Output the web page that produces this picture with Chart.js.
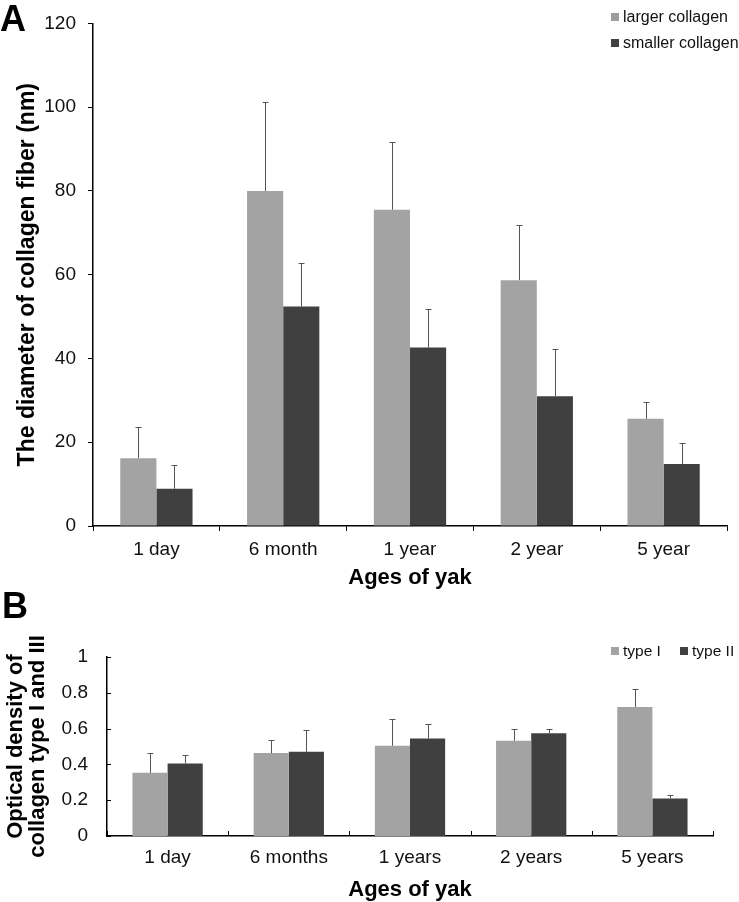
<!DOCTYPE html>
<html>
<head>
<meta charset="utf-8">
<script src="https://cdn.jsdelivr.net/npm/chart.js@4.4.0/dist/chart.umd.min.js"></script>
<style>
  html, body { margin: 0; padding: 0; background: #fff; overflow: hidden; }
  body { width: 739px; height: 902px; position: relative; font-family: "Liberation Sans", Arial, sans-serif; }
  canvas { position: absolute; left: 0; }
  #chartA { top: 0; }
  #chartB { top: 600px; }
  .panel { position: absolute; font-weight: bold; font-size: 36px; line-height: 1; color: #000; }
  .legend { position: absolute; font-size: 16px; color: #111; white-space: nowrap; }
  .legend span.sq { display: inline-block; width: 8px; height: 8px; margin-right: 4px; vertical-align: 1px; }
</style>
</head>
<body>
<canvas id="chartA" width="739" height="600"></canvas>
<canvas id="chartB" width="739" height="302"></canvas>

<div class="panel" style="left:0px; top:1px;">A</div>
<div class="panel" style="left:2px; top:588px;">B</div>

<div class="legend" style="left:611px; top:8px;"><span class="sq" style="background:#9c9c9c"></span>larger collagen</div>
<div class="legend" style="left:611px; top:34px;"><span class="sq" style="background:#404040"></span>smaller collagen</div>
<div class="legend" style="left:611px; top:642px; font-size:15.5px;"><span class="sq" style="background:#a3a3a3"></span>type I</div>
<div class="legend" style="left:680px; top:642px; font-size:15.5px;"><span class="sq" style="background:#404040"></span>type II</div>

<script>
// ===== data, chart A (fiber diameter, nm)
const agesA = ["1 day", "6 month", "1 year", "2 year", "5 year"];
const largerMean = [16.2, 80.0, 75.5, 58.7, 25.6];
const largerSD = [7.4, 21.2, 16.1, 13.1, 4.1];
const smallerMean = [8.9, 52.4, 42.6, 31.0, 14.8];
const smallerSD = [5.6, 10.3, 9.2, 11.2, 5.0];
const ticksA = [0, 20, 40, 60, 80, 100, 120];

// ===== data, chart B (optical density)
const agesB = ["1 day", "6 months", "1 years", "2 years", "5 years"];
const type1Mean = [0.353, 0.463, 0.504, 0.532, 0.721];
const type1SD = [0.108, 0.074, 0.148, 0.068, 0.099];
const type2Mean = [0.405, 0.47, 0.545, 0.574, 0.21];
const type2SD = [0.045, 0.121, 0.083, 0.026, 0.017];
const ticksB = [0, 0.2, 0.4, 0.6, 0.8, 1];

const LIGHT = "#a3a3a3";
const DARK = "#404040";
const FONT = "'Liberation Sans', Arial, sans-serif";

// upper-only error whiskers with a small cap
const errorBars = {
  id: "errorBars",
  afterDatasetsDraw(chart) {
    const ctx = chart.ctx;
    const y = chart.scales.y;
    chart.data.datasets.forEach((ds, i) => {
      const meta = chart.getDatasetMeta(i);
      meta.data.forEach((bar, j) => {
        const x = Math.round(bar.x) + 0.5;
        const top = Math.round(y.getPixelForValue(ds.data[j] + ds.errors[j])) + 0.5;
        ctx.save();
        ctx.strokeStyle = "#555";
        ctx.lineWidth = 1;
        ctx.beginPath();
        ctx.moveTo(x, bar.y);
        ctx.lineTo(x, top);
        ctx.moveTo(x - 3, top);
        ctx.lineTo(x + 3, top);
        ctx.stroke();
        ctx.restore();
      });
    });
  }
};

// chart B has its tick marks pointing into the plot
const innerTicks = {
  id: "innerTicks",
  afterDraw(chart) {
    const { ctx, chartArea: a, scales: { x, y } } = chart;
    ctx.save();
    ctx.strokeStyle = "#000";
    ctx.lineWidth = 1;
    ctx.beginPath();
    y.ticks.forEach((t, i) => {
      const py = Math.round(y.getPixelForTick(i)) + 0.5;
      ctx.moveTo(a.left, py);
      ctx.lineTo(a.left + 4, py);
    });
    for (let i = 0; i <= x.ticks.length; i++) {
      const px = Math.round(x.getPixelForValue(i - 0.5)) + 0.5;
      ctx.moveTo(px, a.bottom);
      ctx.lineTo(px, a.bottom - 5);
    }
    ctx.stroke();
    ctx.restore();
  }
};

// --- Chart A
new Chart(document.getElementById("chartA"), {
  type: "bar",
  data: {
    labels: agesA,
    datasets: [
      { label: "larger collagen", data: largerMean, errors: largerSD, backgroundColor: LIGHT },
      { label: "smaller collagen", data: smallerMean, errors: smallerSD, backgroundColor: DARK }
    ]
  },
  options: {
    responsive: false,
    animation: false,
    layout: { padding: { top: 8, right: 12, left: 0, bottom: 0 } },
    datasets: { bar: { categoryPercentage: 0.57, barPercentage: 1.0 } },
    plugins: { legend: { display: false }, tooltip: { enabled: false } },
    scales: {
      x: {
        afterFit: (s) => { s.height = 74; },
        grid: { display: true, drawOnChartArea: false, offset: true, tickLength: 5, color: "#000" },
        border: { display: true, color: "#000", width: 1.5 },
        ticks: { color: "#111", font: { family: FONT, size: 19 }, padding: 7 },
        title: { display: true, text: "Ages of yak", color: "#000", font: { family: FONT, size: 22, weight: "bold", lineHeight: 1 }, padding: 11 }
      },
      y: {
        min: 0, max: 120,
        afterFit: (s) => { s.width = 93; },
        afterBuildTicks: (s) => { s.ticks = ticksA.map(v => ({ value: v })); },
        grid: { display: true, drawOnChartArea: false, tickLength: 5, color: "#000" },
        border: { display: true, color: "#000", width: 1.5 },
        ticks: { color: "#111", font: { family: FONT, size: 19 }, padding: 12 },
        title: { display: true, text: "The diameter of collagen fiber (nm)", color: "#000", font: { family: FONT, size: 23, weight: "bold", lineHeight: 1 }, padding: 16 }
      }
    }
  },
  plugins: [errorBars]
});

// --- Chart B
new Chart(document.getElementById("chartB"), {
  type: "bar",
  data: {
    labels: agesB,
    datasets: [
      { label: "type I", data: type1Mean, errors: type1SD, backgroundColor: LIGHT },
      { label: "type II", data: type2Mean, errors: type2SD, backgroundColor: DARK }
    ]
  },
  options: {
    responsive: false,
    animation: false,
    layout: { padding: { top: 57, right: 26, left: 0, bottom: 0 } },
    datasets: { bar: { categoryPercentage: 0.58, barPercentage: 1.0 } },
    plugins: { legend: { display: false }, tooltip: { enabled: false } },
    scales: {
      x: {
        afterFit: (s) => { s.height = 66; },
        grid: { display: false, drawTicks: false },
        border: { display: true, color: "#000", width: 1.5 },
        ticks: { color: "#111", font: { family: FONT, size: 19 }, padding: 10 },
        title: { display: true, text: "Ages of yak", color: "#000", font: { family: FONT, size: 22, weight: "bold", lineHeight: 1 }, padding: 1 }
      },
      y: {
        min: 0, max: 1,
        afterFit: (s) => { s.width = 107; },
        afterBuildTicks: (s) => { s.ticks = ticksB.map(v => ({ value: v })); },
        grid: { display: false, drawTicks: false },
        border: { display: true, color: "#000", width: 1.5 },
        ticks: { color: "#111", font: { family: FONT, size: 19 }, padding: 19, callback: (v) => String(+v.toFixed(1)) },
        title: { display: true, text: ["Optical density of", "collagen type I and III"], color: "#000", font: { family: FONT, size: 22, weight: "bold", lineHeight: 1 }, padding: 5 }
      }
    }
  },
  plugins: [errorBars, innerTicks]
});
</script>
</body>
</html>
